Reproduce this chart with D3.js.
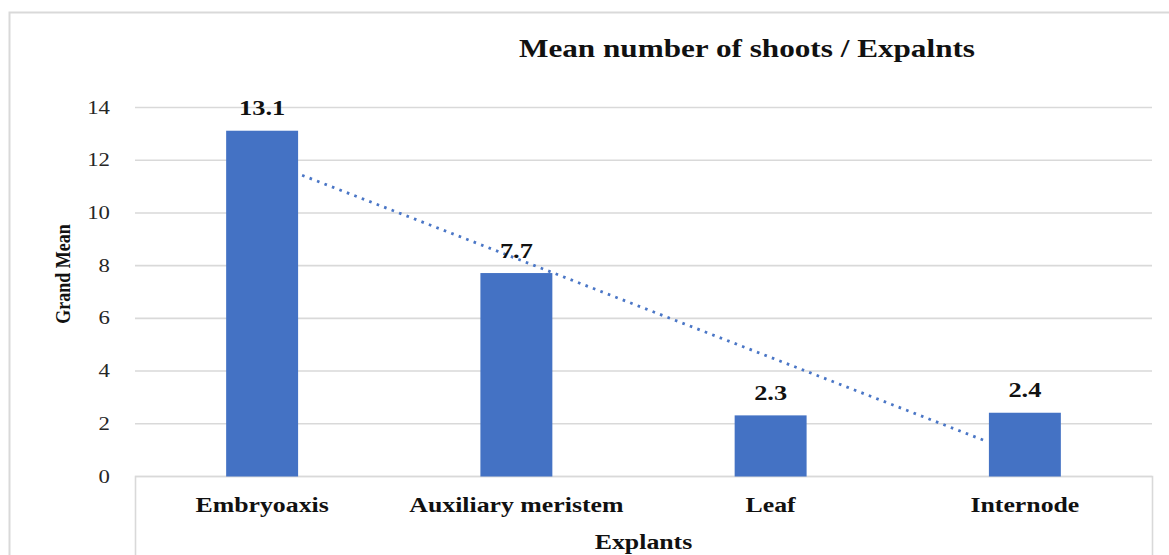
<!DOCTYPE html>
<html>
<head>
<meta charset="utf-8">
<script src="https://cdn.jsdelivr.net/npm/d3@7"></script>
<style>
  html, body { margin: 0; padding: 0; background: #ffffff; }
  svg { display: block; }
  text { font-family: "Liberation Serif", "Times New Roman", serif; }
</style>
</head>
<body>
<svg id="chart" width="1169" height="555"></svg>
<script>
// Explant types and their grand mean shoot counts
const categories = ["Embryoaxis", "Auxiliary meristem", "Leaf", "Internode"];
const values = [13.1, 7.7, 2.3, 2.4];
const yTicks = [0, 2, 4, 6, 8, 10, 12, 14];

const chartTitle = "Mean number of shoots / Expalnts";
const xTitle = "Explants";
const yTitle = "Grand Mean";

const W = 1169, H = 555;
const plot = { left: 135, right: 1152, top: 107, bottom: 476 };
const sx = 1.2;               // horizontal widening of the lettering
const gridColor = "#d9d9d9";
const barColor = "#4472c4";

const svg = d3.select("#chart");

// Chart frame
svg.append("rect")
  .attr("x", 9.5).attr("y", 12.5)
  .attr("width", W + 10).attr("height", H + 10)
  .attr("fill", "#fff")
  .attr("stroke", gridColor).attr("stroke-width", 2);

const x = d3.scaleBand()
  .domain(categories)
  .range([plot.left, plot.right])
  .paddingInner(0.717)
  .paddingOuter(0.3585);

const y = d3.scaleLinear()
  .domain([0, 14])
  .range([plot.bottom, plot.top]);

// Horizontal gridlines
svg.append("g")
  .selectAll("line")
  .data(yTicks)
  .join("line")
  .attr("x1", plot.left).attr("x2", plot.right)
  .attr("y1", d => y(d) + 0.5).attr("y2", d => y(d) + 0.5)
  .attr("stroke", gridColor).attr("stroke-width", 1.6);

// Box framing the category axis area
svg.append("path")
  .attr("d", `M${plot.left + 0.5},${H + 5} V${plot.bottom + 0.5} H${plot.right + 0.5} V${H + 5}`)
  .attr("fill", "none")
  .attr("stroke", gridColor).attr("stroke-width", 1.6);

// Y tick labels
svg.append("g")
  .selectAll("text")
  .data(yTicks)
  .join("text")
  .attr("transform", d => `translate(110,${y(d) + 6.5}) scale(${sx},1)`)
  .attr("text-anchor", "end")
  .attr("font-size", 19)
  .attr("fill", "#262626")
  .text(d => d);

// Bars
svg.append("g")
  .selectAll("rect")
  .data(values)
  .join("rect")
  .attr("x", (d, i) => x(categories[i]))
  .attr("width", x.bandwidth())
  .attr("y", d => y(d))
  .attr("height", d => y(0) - y(d) + 0.5)
  .attr("fill", barColor);

// Linear trendline (least squares over category index 1..n)
const n = values.length;
const xs = d3.range(1, n + 1);
const mx = d3.mean(xs), my = d3.mean(values);
const slope = d3.sum(xs, (v, i) => (v - mx) * (values[i] - my)) / d3.sum(xs, v => (v - mx) ** 2);
const intercept = my - slope * mx;
const idxToPx = t => x(categories[0]) + x.bandwidth() / 2 + (t - 1) * x.step();
const pxToIdx = p => 1 + (p - (x(categories[0]) + x.bandwidth() / 2)) / x.step();
const tStart = pxToIdx(x(categories[0]) + x.bandwidth() + 4);
const tEnd = pxToIdx(x(categories[n - 1]) - 4);
svg.append("line")
  .attr("x1", idxToPx(tStart)).attr("y1", y(intercept + slope * tStart))
  .attr("x2", idxToPx(tEnd)).attr("y2", y(intercept + slope * tEnd))
  .attr("stroke", "#4a76c6")
  .attr("stroke-width", 2.8)
  .attr("stroke-dasharray", "2.6 5.4");

// Value labels
svg.append("g")
  .selectAll("text")
  .data(values)
  .join("text")
  .attr("transform", (d, i) => `translate(${x(categories[i]) + x.bandwidth() / 2},${y(d) - 15.5}) scale(${sx},1)`)
  .attr("text-anchor", "middle")
  .attr("font-size", 22)
  .attr("font-weight", "bold")
  .attr("fill", "#111")
  .text(d => d.toFixed(1));

// Category labels
svg.append("g")
  .selectAll("text")
  .data(categories)
  .join("text")
  .attr("transform", d => `translate(${x(d) + x.bandwidth() / 2},512) scale(${sx},1)`)
  .attr("text-anchor", "middle")
  .attr("font-size", 21.5)
  .attr("font-weight", "bold")
  .attr("fill", "#111")
  .text(d => d);

// Axis titles
svg.append("text")
  .attr("transform", `translate(${(plot.left + plot.right) / 2},548.5) scale(${sx},1)`)
  .attr("text-anchor", "middle")
  .attr("font-size", 21.5)
  .attr("font-weight", "bold")
  .attr("fill", "#111")
  .text(xTitle);

svg.append("text")
  .attr("transform", `translate(69.5,274) scale(${sx},1) rotate(-90)`)
  .attr("text-anchor", "middle")
  .attr("font-size", 18)
  .attr("font-weight", "bold")
  .attr("fill", "#111")
  .text(yTitle);

// Chart title
svg.append("text")
  .attr("transform", `translate(747,56.5) scale(${sx},1)`)
  .attr("text-anchor", "middle")
  .attr("font-size", 26)
  .attr("font-weight", "bold")
  .attr("fill", "#111")
  .text(chartTitle);
</script>
</body>
</html>
